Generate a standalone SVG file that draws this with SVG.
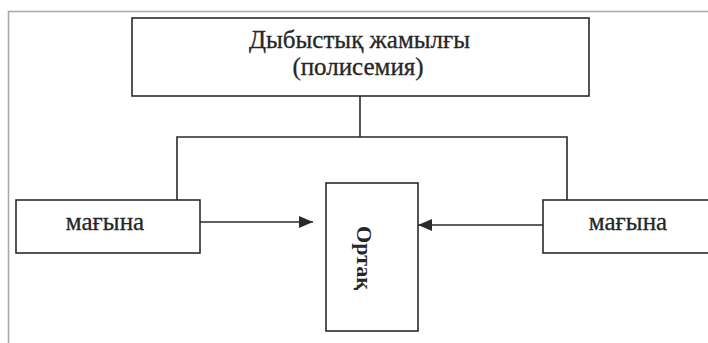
<svg xmlns="http://www.w3.org/2000/svg" width="708" height="343" viewBox="0 0 708 343">
  <style>
    .box { fill: #fff; stroke: #2a2a2a; stroke-width: 1.6; }
    .frame { fill: none; stroke: #a8a8a8; stroke-width: 1.6; }
    .wire { fill: none; stroke: #2a2a2a; stroke-width: 1.6; }
    .lbl { font-family: "Liberation Serif", "Times New Roman", "DejaVu Serif", serif; font-size: 25px; fill: #262626; stroke: #262626; stroke-width: 0.3; text-anchor: middle; }
    .bold { font-weight: bold; font-size: 22px; stroke-width: 0; }
  </style>
  <defs>
    <marker id="arrow" viewBox="0 0 14 12" refX="14" refY="6" markerWidth="14" markerHeight="12" markerUnits="userSpaceOnUse" orient="auto">
      <path d="M0,0 L14,6 L0,12 z" fill="#2a2a2a"/>
    </marker>
  </defs>
  <rect width="708" height="343" fill="#fff"/>
  <!-- page frame -->
  <path class="frame" d="M8.5,343 V11.5 H708"/>

  <!-- connectors -->
  <g id="connectors">
    <path class="wire" d="M360,96 V137 M177,200 V137 H567 V200"/>
    <path class="wire" d="M200,222 H313" marker-end="url(#arrow)"/>
    <path class="wire" d="M543,225 H418" marker-end="url(#arrow)"/>
  </g>

  <g id="top">
    <rect class="box" x="132" y="18" width="457" height="78"/>
    <text class="lbl" x="359.5" y="47.5">Дыбыстық жамылғы</text>
    <text class="lbl" x="358" y="75">(полисемия)</text>
  </g>

  <g id="left">
    <rect class="box" x="16" y="200" width="184" height="53"/>
    <text class="lbl" x="105" y="230">мағына</text>
  </g>

  <g id="center">
    <rect class="box" x="326" y="183" width="92" height="148"/>
    <text class="lbl bold" transform="translate(357,258) rotate(90)">Ортақ</text>
  </g>

  <g id="right">
    <rect class="box" x="543" y="200" width="170" height="53"/>
    <text class="lbl" x="628" y="230">мағына</text>
  </g>
</svg>
